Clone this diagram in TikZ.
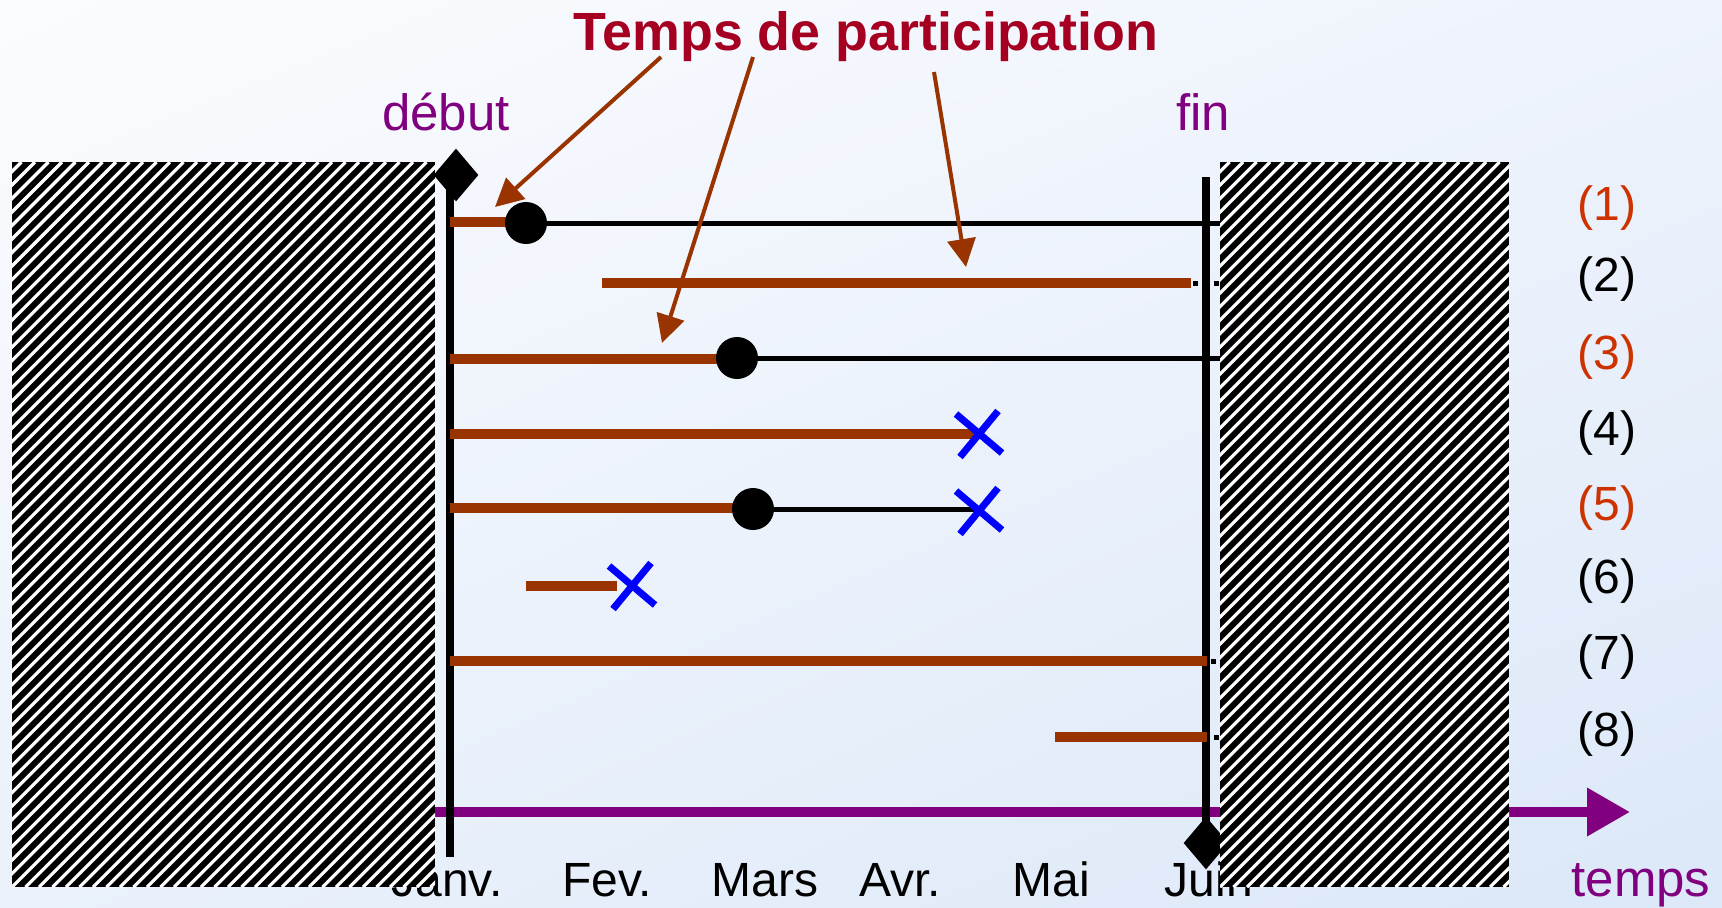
\documentclass[tikz,border=0pt]{standalone}
\usepackage{fontspec}
\setmainfont{Liberation Sans}
\usetikzlibrary{arrows.meta,shapes.geometric,shadings}
\definecolor{titlered}{HTML}{A50021}
\definecolor{barbrown}{HTML}{993300}
\definecolor{numorange}{HTML}{CC3300}
\definecolor{axispurple}{HTML}{800080}
\definecolor{bgUL}{HTML}{FBFCFE}
\definecolor{bgUR}{HTML}{EEF3FC}
\definecolor{bgLL}{HTML}{EAF1FB}
\definecolor{bgLR}{HTML}{DCE8F8}
\definecolor{crossblue}{HTML}{0000FF}
\begin{document}
\begin{tikzpicture}[x=0.5pt,y=-0.5pt,
  titletext/.style={text=titlered, font=\fontsize{26.9}{30}\selectfont\bfseries, anchor=base, inner sep=0pt},
  purplelabel/.style={text=axispurple, font=\fontsize{25.5}{30}\selectfont, anchor=base, inner sep=0pt},
  monthlabel/.style={text=black, font=\fontsize{24}{28}\selectfont, anchor=base, inner sep=0pt},
  numlabel/.style={font=\fontsize{24}{28}\selectfont, anchor=base, inner sep=0pt},
  bar/.style={barbrown, line width=5pt},
  thinline/.style={black, line width=2.5pt},
  dotline/.style={black, line width=2.5pt, dash pattern=on 2.5pt off 8pt},
  vline/.style={black, line width=4.3pt},
  timeaxis/.style={axispurple, line width=5pt, -{Triangle[length=21.5pt,width=23pt]}},
  callout/.style={barbrown, line width=2pt, -{Triangle[length=14pt,width=14pt]}},
  blackdot/.style={circle, fill=black, inner sep=0pt, minimum size=21pt},
  diamondmark/.style={diamond, fill=black, inner sep=0pt, minimum width=22.5pt, minimum height=26.5pt},
  xmark/.style={crossblue, line width=3.5pt},
  hatchline/.style={white, line width=1.6pt}
]
\useasboundingbox (0,0) rectangle (1722,907);
\shade[upper left=bgUL, upper right=bgUR, lower left=bgLL, lower right=bgLR] (0,0) rectangle (1722,907);

% title and callouts
\node[titletext] (title) at (866,50) {Temps de participation};
\coordinate (s1) at (661,57);
\coordinate (s2) at (753,57);
\coordinate (s3) at (934,72);
\coordinate (t1) at (495,207);
\coordinate (t2) at (662,343);
\coordinate (t3) at (966,267);

% labels
\node[purplelabel] (debut) at (446,130) {début};
\node[purplelabel] (fin) at (1203,130) {fin};
\node[purplelabel] (temps) at (1641,896) {temps};

\node[monthlabel] (m1) at (447,896) {Janv.};
\node[monthlabel] (m2) at (607,896) {Fev.};
\node[monthlabel] (m3) at (765,896) {Mars};
\node[monthlabel] (m4) at (900,896) {Avr.};
\node[monthlabel] (m5) at (1051,896) {Mai};
\node[monthlabel] (m6) at (1209,896) {Juin};

\node[numlabel, text=numorange] (n1) at (1607,220) {(1)};
\node[numlabel, text=black] (n2) at (1607,291) {(2)};
\node[numlabel, text=numorange] (n3) at (1607,369) {(3)};
\node[numlabel, text=black] (n4) at (1607,445) {(4)};
\node[numlabel, text=numorange] (n5) at (1607,520) {(5)};
\node[numlabel, text=black] (n6) at (1607,593) {(6)};
\node[numlabel, text=black] (n7) at (1607,669) {(7)};
\node[numlabel, text=black] (n8) at (1607,746) {(8)};

% time axis
\coordinate (axs) at (430,812);
\coordinate (axe) at (1630,812);
\draw[timeaxis] (axs) -- (axe);

% thin black continuation lines
\draw[thinline] (526,223) -- (1222,223);
\draw[thinline] (737,358) -- (1222,358);
\draw[thinline] (753,509) -- (979,509);
\draw[dotline] (1193,283) -- (1222,283);
\draw[dotline] (1211,661) -- (1222,661);
\draw[dotline] (1214,737) -- (1219,737);

% vertical start / end lines
\draw[vline] (450,175) -- (450,857);
\draw[vline] (1206,177) -- (1206,843);
\node[diamondmark] (dstart) at (456,175) {};
\node[diamondmark] (dend) at (1206,843) {};

% participation bars
\draw[bar] (450,222) -- (512,222);
\draw[bar] (602,283) -- (1191,283);
\draw[bar] (450,359) -- (724,359);
\draw[bar] (450,434) -- (979,434);
\draw[bar] (450,508) -- (740,508);
\draw[bar] (526,586) -- (617,586);
\draw[bar] (450,661) -- (1207,661);
\draw[bar] (1055,737) -- (1207,737);

% events
\node[blackdot] (c1) at (526,223) {};
\node[blackdot] (c3) at (737,358) {};
\node[blackdot] (c5) at (753,509) {};
\draw[xmark, shift={(979,433)}] (-23,-19) -- (23,20) (19,-22) -- (-19,24);
\draw[xmark, shift={(979,510)}] (-23,-19) -- (23,20) (19,-22) -- (-19,24);
\draw[xmark, shift={(632,585)}] (-23,-19) -- (23,20) (19,-22) -- (-19,24);

% callout arrows
\draw[callout] (s1) -- (t1);
\draw[callout] (s2) -- (t2);
\draw[callout] (s3) -- (t3);

% hatched out-of-period areas
\begin{scope}
\clip (12,162) rectangle (435,887);
\fill[black] (12,162) rectangle (435,887);
\foreach \i in {-60,...,36} \draw[hatchline] ({12+\i*13.5},887) -- ({12+\i*13.5+725},162);
\end{scope}
\begin{scope}
\clip (1220,162) rectangle (1509,887);
\fill[black] (1220,162) rectangle (1509,887);
\foreach \i in {-60,...,26} \draw[hatchline] ({1220+\i*13.5},887) -- ({1220+\i*13.5+725},162);
\end{scope}
\end{tikzpicture}
\end{document}
